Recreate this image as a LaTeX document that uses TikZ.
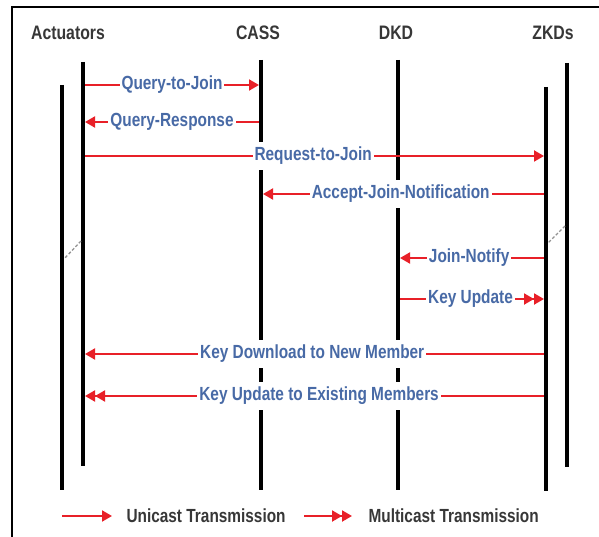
\documentclass[tikz,border=0pt]{standalone}
\usepackage{fontspec}
\setmainfont{Liberation Sans}
\newfontfamily\narrowfont{Liberation Sans}[FakeStretch=0.81]
\usetikzlibrary{arrows.meta}
\definecolor{msgred}{RGB}{232,32,40}
\definecolor{lblblue}{RGB}{72,106,166}
\definecolor{hdrgray}{RGB}{55,55,55}
\tikzset{
  life/.style={line width=4pt, black},
  frameline/.style={line width=1.3pt, black},
  linkdash/.style={line width=1.3pt, gray!85, dash pattern=on 3pt off 2pt},
  uni/.style={draw=msgred, line width=2pt, -{Triangle[length=10pt,width=11pt]}},
  multi/.style={draw=msgred, line width=2pt, -{Triangle[length=10pt,width=11pt] Triangle[length=10pt,width=11pt]}},
  lbl/.style={fill=white, text=lblblue, font=\narrowfont\bfseries\fontsize{19}{21}\selectfont, inner xsep=2pt, inner ysep=5pt},
  hdr/.style={text=hdrgray, font=\narrowfont\bfseries\fontsize{19.5}{21}\selectfont},
  legtext/.style={text=hdrgray, font=\narrowfont\bfseries\fontsize{19}{21}\selectfont, anchor=west}
}
\begin{document}
\begin{tikzpicture}[x=1pt,y=-1pt]
\useasboundingbox (0,0) rectangle (599,537);
% frame
\coordinate (fbl) at (12,540);
\coordinate (ftl) at (12,7);
\coordinate (ftr) at (602,7);
\draw[frameline] (fbl) -- (ftl) -- (ftr);
% headers
\node[hdr] (hAct) at (68,33) {Actuators};
\node[hdr] (hCass) at (258,33) {CASS};
\node[hdr] (hDkd) at (396,33) {DKD};
\node[hdr] (hZkd) at (553,33) {ZKDs};
% lifelines
\coordinate (actOt) at (62,85);  \coordinate (actOb) at (62,490);
\coordinate (actIt) at (83,62);  \coordinate (actIb) at (83,466);
\coordinate (cassT) at (261,60); \coordinate (cassB) at (261,490);
\coordinate (dkdT) at (398,60);  \coordinate (dkdB) at (398,490);
\coordinate (zkdIt) at (546,87); \coordinate (zkdIb) at (546,491);
\coordinate (zkdOt) at (567,63); \coordinate (zkdOb) at (567,467);
\draw[life] (actOt) -- (actOb);
\draw[life] (actIt) -- (actIb);
\draw[life] (cassT) -- (cassB);
\draw[life] (dkdT) -- (dkdB);
\draw[life] (zkdIt) -- (zkdIb);
\draw[life] (zkdOt) -- (zkdOb);
% dashed links between paired lifelines
\coordinate (la1) at (81,241); \coordinate (la2) at (64,259);
\coordinate (lz1) at (565,226); \coordinate (lz2) at (548,243);
\draw[linkdash] (la1) -- (la2);
\draw[linkdash] (lz1) -- (lz2);
% message end points
\coordinate (m1a) at (85,85);   \coordinate (m1b) at (259,85);
\coordinate (m2a) at (259,122); \coordinate (m2b) at (85,122);
\coordinate (m3a) at (85,156);  \coordinate (m3b) at (544,156);
\coordinate (m4a) at (544,194); \coordinate (m4b) at (263,194);
\coordinate (m5a) at (544,258); \coordinate (m5b) at (400,258);
\coordinate (m6a) at (400,299); \coordinate (m6b) at (544,299);
\coordinate (m7a) at (544,354); \coordinate (m7b) at (85,354);
\coordinate (m8a) at (544,396); \coordinate (m8b) at (85,396);
% messages
\draw[uni] (m1a) -- node[lbl, pos=0.5] {Query-to-Join} (m1b);
\draw[uni] (m2a) -- node[lbl, pos=0.5] {Query-Response} (m2b);
\draw[uni] (m3a) -- node[lbl, pos=0.497] {Request-to-Join} (m3b);
\draw[uni] (m4a) -- node[lbl, pos=0.51] {Accept-Join-Notification} (m4b);
\draw[uni] (m5a) -- node[lbl, pos=0.52] {Join-Notify} (m5b);
\draw[multi] (m6a) -- node[lbl, pos=0.49] {Key Update} (m6b);
\draw[uni] (m7a) -- node[lbl, pos=0.505] {Key Download to New Member} (m7b);
\draw[multi] (m8a) -- node[lbl, pos=0.49] {Key Update to Existing Members} (m8b);
% legend
\coordinate (lu1) at (62,516); \coordinate (lu2) at (112,516);
\coordinate (lm1) at (304,516); \coordinate (lm2) at (352,516);
\draw[uni] (lu1) -- (lu2);
\draw[multi] (lm1) -- (lm2);
\node[legtext] (tUni) at (123,516) {Unicast Transmission};
\node[legtext] (tMulti) at (365,516) {Multicast Transmission};
\end{tikzpicture}
\end{document}
